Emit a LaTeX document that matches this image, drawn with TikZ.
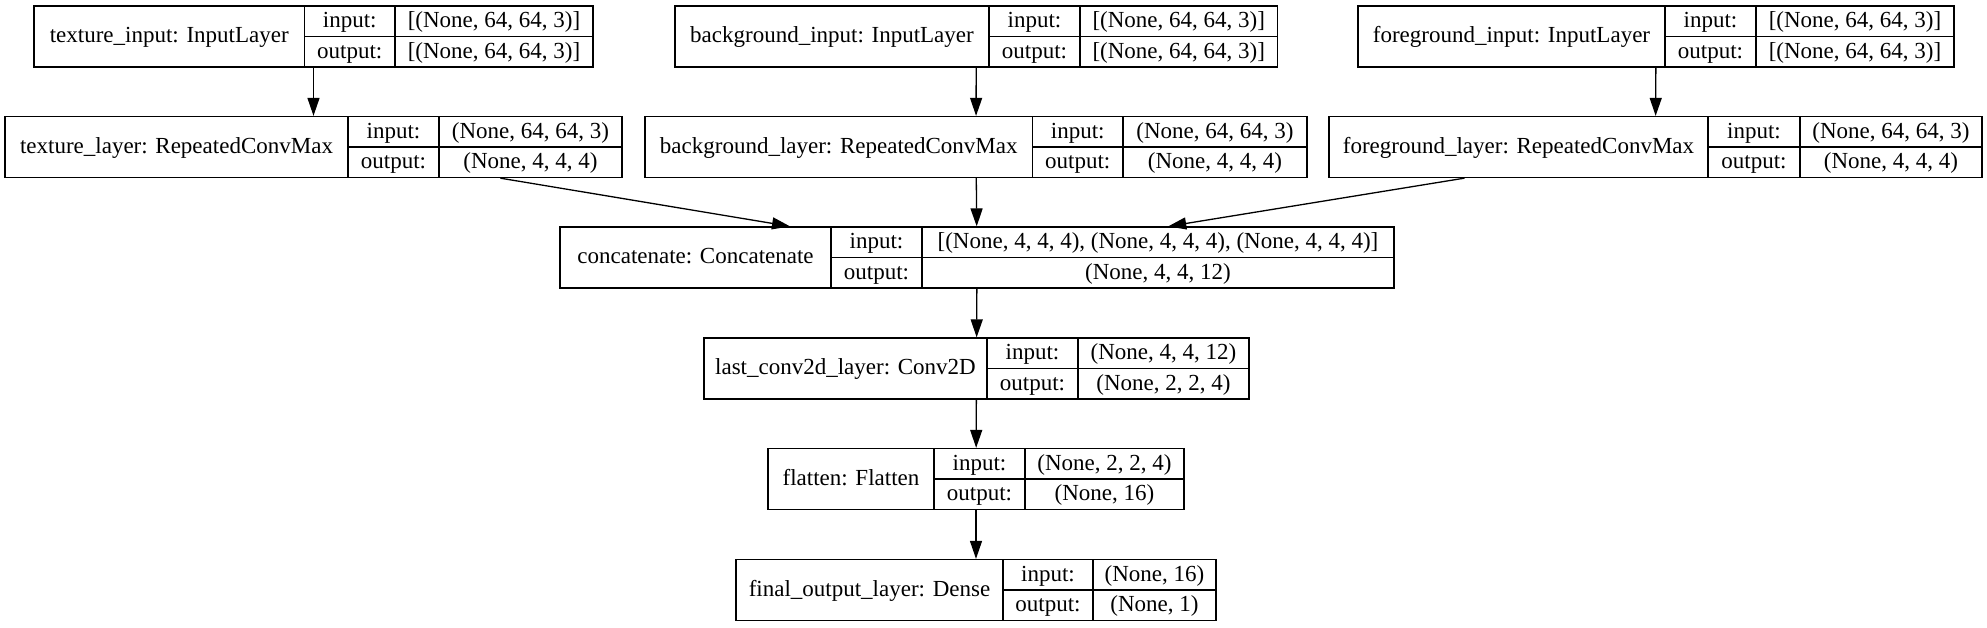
\documentclass[tikz,border=0pt]{standalone}
\usepackage{fontspec}
\setmainfont{Liberation Serif}
\usetikzlibrary{arrows.meta,positioning}

% one keras layer record: name, x0, x1, x2, x3, top, title, input shape, output shape
\newcommand{\kerasbox}[9]{%
  \pgfmathsetmacro\boxw{#5-#2}
  \node[box, minimum width=\boxw pt] (#1) at ({(#2+#5)/2},{#6+30.5}) {};
  \draw[rule] (#3,#6) -- (#3,{#6+61});
  \draw[rule] (#4,#6) -- (#4,{#6+61});
  \draw[rule] (#3,{#6+30.5}) -- (#5,{#6+30.5});
  \node[txt] (#1-name) at ({(#2+#3)/2},{#6+30.5}) {#7};
  \node[txt] (#1-il) at ({(#3+#4)/2},{#6+15.5}) {input:};
  \node[txt] (#1-ol) at ({(#3+#4)/2},{#6+46}) {output:};
  \node[txt] (#1-iv) at ({(#4+#5)/2},{#6+15.5}) {#8};
  \node[txt] (#1-ov) at ({(#4+#5)/2},{#6+46}) {#9};
}

\begin{document}
\begin{tikzpicture}[x=1pt, y=-1pt,
  box/.style={rectangle, draw=black, line width=1.3pt, minimum height=61pt, inner sep=0pt},
  rule/.style={line width=1.3pt},
  txt/.style={inner sep=0pt, text height=17pt, text depth=5pt, font=\fontsize{23}{28}\selectfont},
  link/.style={line width=1.3pt, -{Triangle[length=18pt, width=12pt]}}]
  \useasboundingbox (0,0) rectangle (1987,627);

  % inputs
  \kerasbox{ti}{34}{304.5}{395}{593}{6}{texture\_input: InputLayer}{[(None, 64, 64, 3)]}{[(None, 64, 64, 3)]}
  \kerasbox{bi}{675}{989}{1080}{1277.5}{6}{background\_input: InputLayer}{[(None, 64, 64, 3)]}{[(None, 64, 64, 3)]}
  \kerasbox{fi}{1358}{1665}{1756}{1954}{6}{foreground\_input: InputLayer}{[(None, 64, 64, 3)]}{[(None, 64, 64, 3)]}

  % branches
  \kerasbox{tl}{5}{348}{439}{622}{116.5}{texture\_layer: RepeatedConvMax}{(None, 64, 64, 3)}{(None, 4, 4, 4)}
  \kerasbox{bl}{645}{1032.5}{1123}{1307}{116.5}{background\_layer: RepeatedConvMax}{(None, 64, 64, 3)}{(None, 4, 4, 4)}
  \kerasbox{fl}{1329}{1708}{1800}{1982}{116.5}{foreground\_layer: RepeatedConvMax}{(None, 64, 64, 3)}{(None, 4, 4, 4)}

  % head
  \kerasbox{cc}{560}{831}{922}{1394}{227}{concatenate: Concatenate}{[(None, 4, 4, 4), (None, 4, 4, 4), (None, 4, 4, 4)]}{(None, 4, 4, 12)}
  \kerasbox{cv}{704}{987}{1078}{1249}{338}{last\_conv2d\_layer: Conv2D}{(None, 4, 4, 12)}{(None, 2, 2, 4)}
  \kerasbox{fa}{768}{934}{1025}{1184}{448.5}{flatten: Flatten}{(None, 2, 2, 4)}{(None, 16)}
  \kerasbox{fo}{736}{1003}{1093}{1216}{559.5}{final\_output\_layer: Dense}{(None, 16)}{(None, 1)}

  \draw[link] (ti) -- (tl);
  \draw[link] (bi) -- (bl);
  \draw[link] (fi) -- (fl);
  \draw[link] (tl) -- (cc);
  \draw[link] (bl) -- (cc);
  \draw[link] (fl) -- (cc);
  \draw[link] (cc) -- (cv);
  \draw[link] (cv) -- (fa);
  \draw[link] (fa) -- (fo);
\end{tikzpicture}
\end{document}
